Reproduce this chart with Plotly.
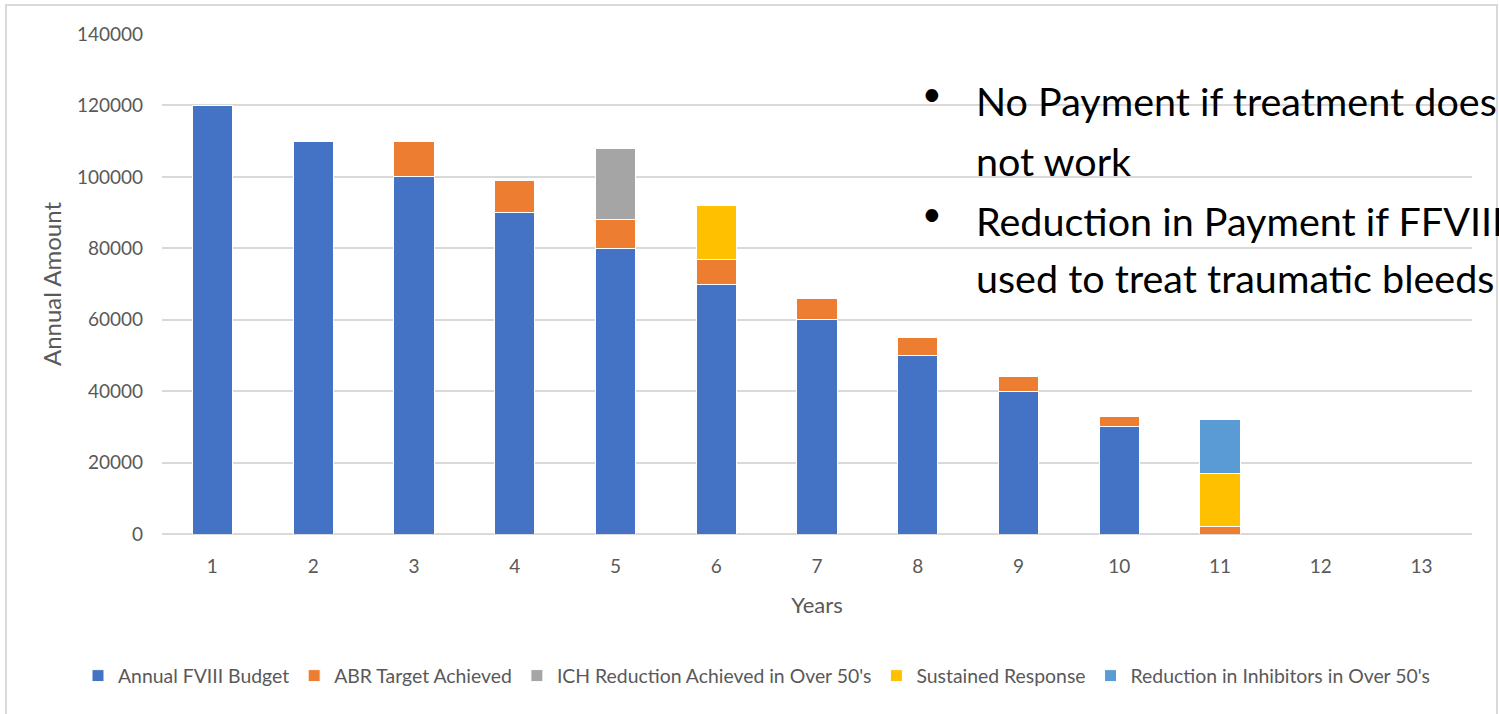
import plotly.graph_objects as go

years = [str(i) for i in range(1, 14)]
budget = [120000, 110000, 100000, 90000, 80000, 70000, 60000, 50000, 40000, 30000, None, None, None]
abr = [None, None, 10000, 9000, 8000, 7000, 6000, 5000, 4000, 3000, 2000, None, None]
ich = [None, None, None, None, 20000, None, None, None, None, None, None, None, None]
sustained = [None, None, None, None, None, 15000, None, None, None, None, 15000, None, None]
inhibitors = [None, None, None, None, None, None, None, None, None, None, 15000, None, None]

series_names = ["Annual FVIII Budget", "ABR Target Achieved", "ICH Reduction Achieved in Over 50's",
                "Sustained Response", "Reduction in Inhibitors in Over 50's"]
series_values = [budget, abr, ich, sustained, inhibitors]
colors = ["#4472C4", "#ED7D31", "#A5A5A5", "#FFC000", "#5B9BD5"]

bullet_lines = [["No Payment if treatment does", "not work"],
                ["Reduction in Payment if FFVIII is", "used to treat traumatic bleeds"]]

fig = go.Figure()
for name, vals, col in zip(series_names, series_values, colors):
    fig.add_trace(go.Bar(x=years, y=vals, name=name,
                         marker=dict(color=col, line=dict(color="white", width=1))))

W, H = 1499, 714
L, T = 162, 34
R = W - 1472
B = H - 534
pw, ph = W - L - R, H - T - B

def px(x):
    return (x - L) / pw

def py(y):
    return (H - B - y) / ph

font_family = "Lato, 'Open Sans', sans-serif"

fig.update_layout(
    width=W, height=H,
    margin=dict(l=L, r=R, t=T, b=B, autoexpand=False),
    barmode="stack",
    bargap=0.6,
    plot_bgcolor="white",
    paper_bgcolor="white",
    font=dict(family=font_family, color="#595959", size=19),
    legend=dict(orientation="h", x=px(78), y=py(676), xanchor="left", yanchor="middle",
                font=dict(size=19.4, color="#595959"), itemwidth=30, tracegroupgap=0,
                traceorder="normal", bgcolor="rgba(0,0,0,0)"),
    xaxis=dict(type="category", showgrid=False, showline=False, ticks="",
               tickfont=dict(size=19, color="#595959"), ticklabelstandoff=19,
               title=dict(text="Years", font=dict(size=22, color="#595959"), standoff=21)),
    yaxis=dict(range=[0, 140000], dtick=20000, showgrid=True, gridcolor="#D9D9D9", gridwidth=2,
               zeroline=True, zerolinecolor="#D9D9D9", zerolinewidth=2, showline=False,
               tickfont=dict(size=19, color="#595959"), ticklabelstandoff=18, tickformat="d",
               title=dict(text="Annual Amount", font=dict(size=24, color="#595959"), standoff=8)),
    showlegend=True,
)

# chart border
fig.add_shape(type="rect", xref="paper", yref="paper",
              x0=px(6), x1=px(1497), y0=py(730), y1=py(5),
              line=dict(color="#D9D9D9", width=2), fillcolor="rgba(0,0,0,0)", layer="below")

baselines = [[113, 173], [233, 290]]
for lines, bls in zip(bullet_lines, baselines):
    for i, (txt, bl) in enumerate(zip(lines, bls)):
        ycen = bl - 13
        fig.add_annotation(xref="paper", yref="paper", x=px(974), y=py(ycen),
                           xanchor="left", yanchor="middle", text=txt, showarrow=False,
                           font=dict(family=font_family, size=39.5, color="black"))
        if i == 0:
            fig.add_annotation(xref="paper", yref="paper", x=px(932), y=py(ycen - 8),
                               xanchor="center", yanchor="middle", text="•", showarrow=False,
                               font=dict(family=font_family, size=34, color="black"))

fig.write_html("out.html", config={"displayModeBar": False},
               post_script="document.body.style.margin='0px';document.body.style.overflow='hidden';")
